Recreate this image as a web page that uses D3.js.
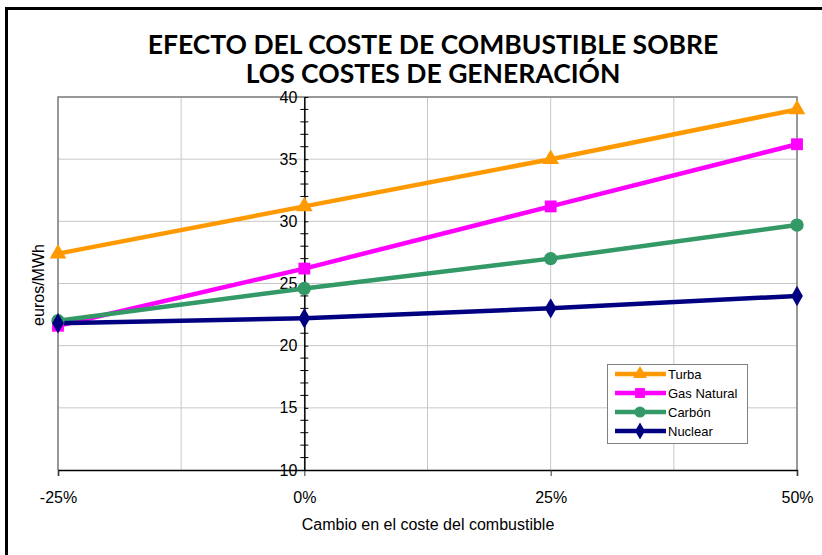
<!DOCTYPE html>
<html>
<head>
<meta charset="utf-8">
<script src="https://cdn.jsdelivr.net/npm/d3@7"></script>
<style>
  body { margin: 0; background: #fff; }
  svg { display: block; }
</style>
</head>
<body>
<div id="chart"></div>
<script>
// datos
const cambios = [-25, 0, 25, 50];
const xTicks = [-25, 0, 25, 50];
const yTicks = [10, 15, 20, 25, 30, 35, 40];
const turba = [27.4, 31.2, 35.0, 39.0];
const gasNatural = [21.6, 26.2, 31.2, 36.2];
const carbon = [22.0, 24.6, 27.0, 29.7];
const nuclear = [21.8, 22.2, 23.0, 24.0];

const series = [
    { name: 'Turba', values: turba, color: '#FF9900', symbol: d3.symbolTriangle, size: 120 },
    { name: 'Gas Natural', values: gasNatural, color: '#FF00FF', symbol: d3.symbolSquare, size: 140 },
    { name: 'Carbón', values: carbon, color: '#339966', symbol: d3.symbolCircle, size: 140 },
    { name: 'Nuclear', values: nuclear, color: '#000080', symbol: d3.symbolDiamond, size: 120 }
];

const width = 822, height = 555;
const svg = d3.select('#chart').append('svg')
    .attr('width', width)
    .attr('height', height);

// marco exterior (solo izquierda y arriba se ven)
svg.append('path')
    .attr('d', `M6.5,${height} L6.5,8.5 L${width},8.5`)
    .attr('fill', 'none')
    .attr('stroke', '#000')
    .attr('stroke-width', 3);

const plot = { left: 58, right: 797, top: 97, bottom: 470 };

const x = d3.scaleLinear().domain([-25, 50]).range([plot.left, plot.right]);
const y = d3.scaleLinear().domain([10, 40]).range([plot.bottom, plot.top]);

// rejilla
svg.append('g')
    .selectAll('line')
    .data(d3.range(-25, 50.1, 12.5))
    .enter()
    .append('line')
    .attr('x1', d => x(d)).attr('x2', d => x(d))
    .attr('y1', plot.top).attr('y2', plot.bottom)
    .attr('stroke', '#c8c8c8')
    .attr('stroke-width', 1);

svg.append('g')
    .selectAll('line')
    .data(yTicks.slice(1))
    .enter()
    .append('line')
    .attr('x1', plot.left).attr('x2', plot.right)
    .attr('y1', d => y(d)).attr('y2', d => y(d))
    .attr('stroke', '#c8c8c8')
    .attr('stroke-width', 1);

// borde del area
svg.append('path')
    .attr('d', `M${plot.left},${plot.bottom} L${plot.left},${plot.top} L${plot.right},${plot.top} L${plot.right},${plot.bottom}`)
    .attr('fill', 'none')
    .attr('stroke', '#808080')
    .attr('stroke-width', 1.5);

// eje x
const xAxis = svg.append('g')
    .attr('transform', `translate(0,${plot.bottom})`)
    .call(d3.axisBottom(x).tickValues(xTicks).tickSize(6).tickFormat(d => d + '%'));
xAxis.select('.domain').attr('stroke', '#000').attr('stroke-width', 1.5);
xAxis.selectAll('.tick line').attr('stroke', '#333');
xAxis.selectAll('text')
    .attr('font-family', 'Liberation Sans, Arial, sans-serif')
    .attr('font-size', 16)
    .attr('fill', '#000')
    .attr('dy', '1.5em');

// eje y en el 0%
const x0 = x(0);
const yAxis = svg.append('g')
    .attr('transform', `translate(${x0},0)`)
    .call(d3.axisLeft(y).tickValues(yTicks).tickSize(7).tickSizeOuter(0));
yAxis.select('.domain').attr('stroke', '#000').attr('stroke-width', 1.5);
yAxis.selectAll('.tick line').attr('stroke', '#000').attr('x2', 4);
yAxis.selectAll('text')
    .attr('font-family', 'Liberation Sans, Arial, sans-serif')
    .attr('font-size', 16)
    .attr('fill', '#000')
    .attr('x', -7);

// marcas menores cruzando el eje
svg.append('g')
    .selectAll('line')
    .data(d3.range(11, 40, 1).filter(v => v % 5 !== 0))
    .enter()
    .append('line')
    .attr('x1', x0 - 4).attr('x2', x0 + 4)
    .attr('y1', d => y(d)).attr('y2', d => y(d))
    .attr('stroke', '#000')
    .attr('stroke-width', 1);

// lineas
const line = d3.line()
    .x((d, i) => x(cambios[i]))
    .y(d => y(d));

series.forEach(s => {
    svg.append('path')
        .datum(s.values)
        .attr('d', line)
        .attr('fill', 'none')
        .attr('stroke', s.color)
        .attr('stroke-width', 4.5);
});

series.forEach(s => {
    svg.append('g')
        .selectAll('path')
        .data(s.values)
        .enter()
        .append('path')
        .attr('d', d3.symbol().type(s.symbol).size(s.size))
        .attr('transform', (d, i) => `translate(${x(cambios[i])},${y(d)})`)
        .attr('fill', s.color);
});

// leyenda
const legend = svg.append('g').attr('transform', 'translate(607,364)');
legend.append('rect')
    .attr('x', 0.5).attr('y', 0.5)
    .attr('width', 140).attr('height', 79)
    .attr('fill', '#fff')
    .attr('stroke', '#808080')
    .attr('stroke-width', 1);

series.forEach((s, i) => {
    const g = legend.append('g').attr('transform', `translate(0,${10 + i * 19})`);
    g.append('line')
        .attr('x1', 8).attr('x2', 59)
        .attr('stroke', s.color)
        .attr('stroke-width', 4.5);
    g.append('path')
        .attr('d', d3.symbol().type(s.symbol).size(s.size * 0.7))
        .attr('transform', 'translate(33,0)')
        .attr('fill', s.color);
    g.append('text')
        .attr('x', 61)
        .attr('dy', '0.36em')
        .attr('font-family', 'Liberation Sans, Arial, sans-serif')
        .attr('font-size', 13)
        .text(s.name);
});

// titulos
const title = svg.append('text')
    .attr('text-anchor', 'middle')
    .attr('font-family', 'Lato, sans-serif')
    .attr('font-weight', 'bold')
    .attr('font-size', 26.5);
title.append('tspan').attr('x', 433).attr('y', 54).text('EFECTO DEL COSTE DE COMBUSTIBLE SOBRE');
title.append('tspan').attr('x', 433).attr('y', 83).text('LOS COSTES DE GENERACIÓN');

svg.append('text')
    .attr('x', 428).attr('y', 530)
    .attr('text-anchor', 'middle')
    .attr('font-family', 'Liberation Sans, Arial, sans-serif')
    .attr('font-size', 16)
    .text('Cambio en el coste del combustible');

svg.append('text')
    .attr('transform', 'translate(44,285) rotate(-90)')
    .attr('text-anchor', 'middle')
    .attr('font-family', 'Liberation Sans, Arial, sans-serif')
    .attr('font-size', 16)
    .text('euros/MWh');
</script>
</body>
</html>
